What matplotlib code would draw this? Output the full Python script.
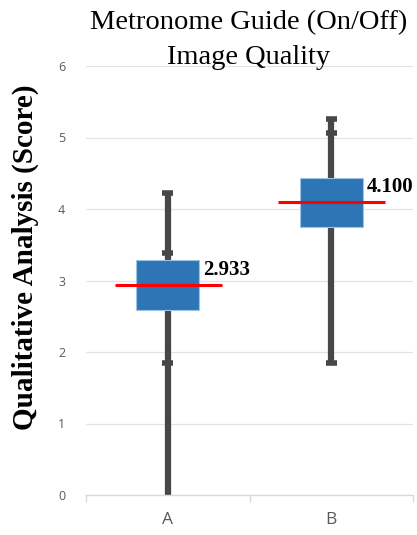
import matplotlib
matplotlib.use("Agg")
import matplotlib.pyplot as plt

categories = ["A", "B"]
q1 = [2.59, 3.75]
q3 = [3.29, 4.43]
whisker_low = [0.0, 1.85]
whisker_high = [4.22, 5.26]
mean_values = [2.933, 4.100]
mean_labels = ["2.933", "4.100"]
extra_ticks = [[3.38, 1.85], [5.06]]
y_ticks = [0, 1, 2, 3, 4, 5, 6]

fig = plt.figure(figsize=(4.17, 5.35), dpi=100)
ax = fig.add_axes([86/417, 40/535, 327/417, 429/535])

pos = list(range(len(categories)))
ax.set_xlim(-0.5, len(categories) - 0.5)
ax.set_ylim(0, 6)

for i in pos:
    ax.vlines(i, whisker_low[i], whisker_high[i], color="#474747", lw=4.5, zorder=2)
    caps = [whisker_high[i]] + extra_ticks[i]
    if whisker_low[i] > 0:
        caps.append(whisker_low[i])
    ax.hlines(caps, i - 0.034, i + 0.034, color="#474747", lw=4, zorder=2)

ax.bar(pos, [h - l for h, l in zip(q3, q1)], bottom=q1, width=0.385,
       color="#2E75B6", edgecolor="#9DC3E6", linewidth=0.8, zorder=3)

for i in pos:
    ax.hlines(mean_values[i], i - 0.325, i + 0.33, color="#FF0000", lw=2.2, zorder=4)
    ax.text(i + 0.218, mean_values[i] + 0.21, mean_labels[i], fontsize=15,
            fontweight="bold", family="Liberation Serif", color="black",
            va="center", ha="left", zorder=5)

ax.set_yticks(y_ticks)
ax.yaxis.grid(True, color="#E3E3E3", lw=0.9)
ax.set_axisbelow(True)
ax.tick_params(axis="y", length=0, colors="#595959", labelsize=9, pad=15)
for lbl in ax.get_yticklabels():
    lbl.set_family("Open Sans")
for s in ["top", "right", "left"]:
    ax.spines[s].set_visible(False)
ax.spines["bottom"].set_color("#D9D9D9")
ax.spines["bottom"].set_linewidth(1.0)

ax.set_xticks([-0.5 + k for k in range(len(categories) + 1)])
ax.set_xticklabels([])
ax.tick_params(axis="x", which="major", length=5, color="#D9D9D9", width=1.0)
ax.set_xticks(pos, minor=True)
ax.set_xticklabels(categories, minor=True, family="Open Sans")
ax.tick_params(axis="x", which="minor", length=0, colors="#595959", labelsize=12.5, pad=12)

fig.text(249/417, 1 - 23/535, "Metronome Guide (On/Off)", ha="center", va="center",
         fontsize=20.5, family="Liberation Serif")
fig.text(249/417, 1 - 58/535, "Image Quality", ha="center", va="center",
         fontsize=20.5, family="Liberation Serif")
fig.text(25/417, 1 - 257/535, "Qualitative Analysis (Score)", rotation=90,
         ha="center", va="center", fontsize=21, fontweight="bold",
         family="Liberation Serif")

fig.savefig("out.png", dpi=100)
